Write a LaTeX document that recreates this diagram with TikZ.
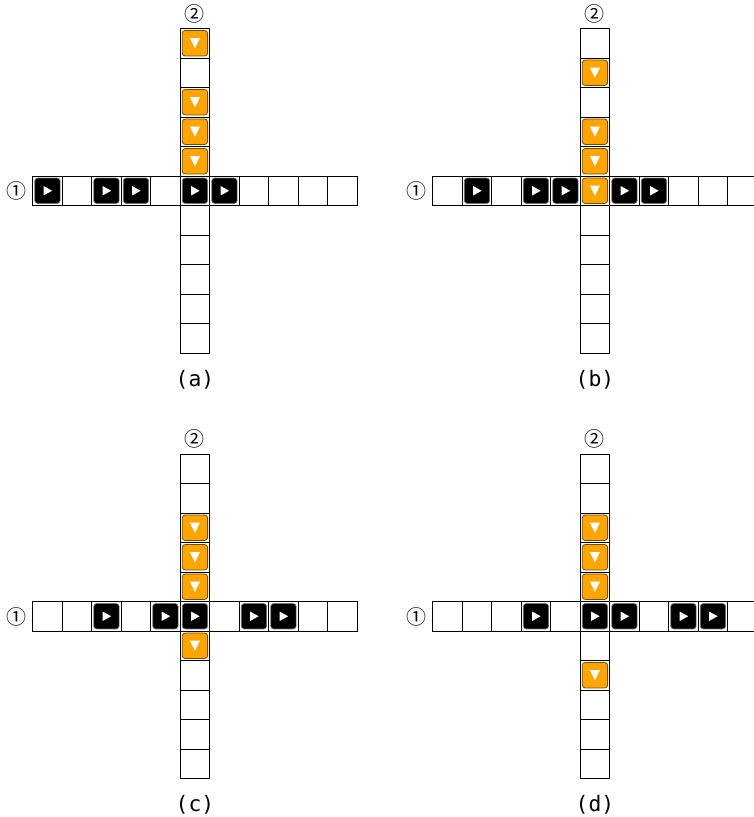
\documentclass[tikz,border=0pt]{standalone}
\usepackage{fontspec}
\setmainfont{DejaVu Sans}
\newfontfamily\circfont{Noto Sans CJK JP}
\newfontfamily\capfont{DejaVu Sans Mono}
\definecolor{carorange}{HTML}{FFA500}
\tikzset{
  cell/.style={draw=black, line width=0.7pt, fill=white},
  hcarbox/.style={fill=black, draw=black!55, line width=0.5pt, rounded corners=2.2pt},
  vcarbox/.style={fill=carorange, draw=carorange!45!black, line width=0.6pt, rounded corners=2.2pt},
  roadlabel/.style={font=\circfont\fontsize{15}{15}\selectfont, inner sep=0pt},
  caption/.style={font=\capfont\fontsize{16}{16}\selectfont, inner sep=0pt}
}
% black car on road 1, cell #1 from the left
\newcommand{\hcar}[1]{%
  \draw[hcarbox] (#1+0.07,0.07) rectangle (#1+0.93,0.93);
  \fill[white] (#1+0.37,0.34) -- (#1+0.66,0.5) -- (#1+0.37,0.66) -- cycle;}
% orange car on road 2, cell #1 from the top
\newcommand{\vcar}[1]{%
  \draw[vcarbox] (5.07,#1-4.93) rectangle (5.93,#1-4.07);
  \fill[white] (5.33,#1-4.67) -- (5.67,#1-4.67) -- (5.5,#1-4.33) -- cycle;}
% the two crossing roads, #1 = name prefix, #2 = caption
\newcommand{\roads}[2]{%
  \foreach \i in {0,...,10} {\draw[cell] (\i,0) rectangle ++(1,1);}
  \foreach \j in {-5,...,5} {\draw[cell] (5,\j) rectangle ++(1,1);}
  \node[roadlabel] (#1-one) at (-0.55,0.52) {①};
  \node[roadlabel] (#1-two) at (5.5,-5.5) {②};
  \node[caption] (#1-cap) at (5.5,6.9) {#2};}

\begin{document}
\begin{tikzpicture}[x=22.125pt, y=-22.125pt]
\useasboundingbox (0,0) rectangle (25.559,27.695);
% (a)
\begin{scope}[shift={(1.108,5.966)}]
  \roads{a}{(a)}
  \foreach \i in {0,2,3,5,6} {\hcar{\i}}
  \foreach \j in {0,2,3,4} {\vcar{\j}}
\end{scope}
% (b)
\begin{scope}[shift={(14.668,5.966)}]
  \roads{b}{(b)}
  \foreach \i in {1,3,4,6,7} {\hcar{\i}}
  \foreach \j in {1,3,4,5} {\vcar{\j}}
\end{scope}
% (c)
\begin{scope}[shift={(1.108,20.390)}]
  \roads{c}{(c)}
  \foreach \i in {2,4,5,7,8} {\hcar{\i}}
  \foreach \j in {2,3,4,6} {\vcar{\j}}
\end{scope}
% (d)
\begin{scope}[shift={(14.668,20.390)}]
  \roads{d}{(d)}
  \foreach \i in {3,5,6,8,9} {\hcar{\i}}
  \foreach \j in {2,3,4,7} {\vcar{\j}}
\end{scope}
\end{tikzpicture}
\end{document}
